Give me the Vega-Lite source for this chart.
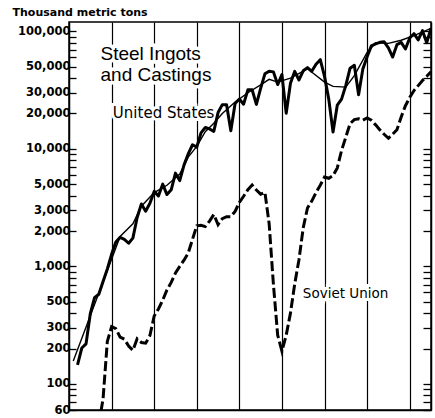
{
  "$schema": "https://vega.github.io/schema/vega-lite/v6.json",
  "width": 362,
  "height": 388,
  "autosize": {"type": "none"},
  "padding": {"left": 69, "top": 22, "right": 4, "bottom": 8},
  "background": "white",
  "config": {
    "view": {"stroke": "black", "strokeWidth": 1.5},
    "font": "DejaVu Sans",
    "axis": {"domainColor": "black", "domainWidth": 1.5, "tickColor": "black", "tickWidth": 1.3, "labelColor": "black", "titleColor": "black"}
  },
  "datasets": {
    "us": [
      {"year": 1872, "value": 145}, {"year": 1873, "value": 202}, {"year": 1874, "value": 219}, {"year": 1875, "value": 396},
      {"year": 1876, "value": 542}, {"year": 1877, "value": 579}, {"year": 1878, "value": 744}, {"year": 1879, "value": 950},
      {"year": 1880, "value": 1267}, {"year": 1881, "value": 1614}, {"year": 1882, "value": 1765}, {"year": 1883, "value": 1700},
      {"year": 1884, "value": 1574}, {"year": 1885, "value": 1739}, {"year": 1886, "value": 2604}, {"year": 1887, "value": 3393},
      {"year": 1888, "value": 2946}, {"year": 1889, "value": 3440}, {"year": 1890, "value": 4346}, {"year": 1891, "value": 3968},
      {"year": 1892, "value": 5006}, {"year": 1893, "value": 4084}, {"year": 1894, "value": 4483}, {"year": 1895, "value": 6212},
      {"year": 1896, "value": 5366}, {"year": 1897, "value": 7270}, {"year": 1898, "value": 9076}, {"year": 1899, "value": 10833},
      {"year": 1900, "value": 10351}, {"year": 1901, "value": 13689}, {"year": 1902, "value": 15186}, {"year": 1903, "value": 14767},
      {"year": 1904, "value": 14083}, {"year": 1905, "value": 20354}, {"year": 1906, "value": 23772}, {"year": 1907, "value": 23737},
      {"year": 1908, "value": 14247}, {"year": 1909, "value": 24338}, {"year": 1910, "value": 26512}, {"year": 1911, "value": 23997},
      {"year": 1912, "value": 31757}, {"year": 1913, "value": 31803}, {"year": 1914, "value": 23890}, {"year": 1915, "value": 32667},
      {"year": 1916, "value": 43460}, {"year": 1917, "value": 45783}, {"year": 1918, "value": 45178}, {"year": 1919, "value": 35219},
      {"year": 1920, "value": 42809}, {"year": 1921, "value": 20101}, {"year": 1922, "value": 36173}, {"year": 1923, "value": 45665},
      {"year": 1924, "value": 38540}, {"year": 1925, "value": 46122}, {"year": 1926, "value": 49069}, {"year": 1927, "value": 45656},
      {"year": 1928, "value": 52371}, {"year": 1929, "value": 57339}, {"year": 1930, "value": 41352}, {"year": 1931, "value": 26355},
      {"year": 1932, "value": 13901}, {"year": 1933, "value": 23600}, {"year": 1934, "value": 26494}, {"year": 1935, "value": 34640},
      {"year": 1936, "value": 48533}, {"year": 1937, "value": 51380}, {"year": 1938, "value": 28805}, {"year": 1939, "value": 47898},
      {"year": 1940, "value": 60766}, {"year": 1941, "value": 75152}, {"year": 1942, "value": 78047}, {"year": 1943, "value": 80593},
      {"year": 1944, "value": 81321}, {"year": 1945, "value": 72302}, {"year": 1946, "value": 60421}, {"year": 1947, "value": 77015},
      {"year": 1948, "value": 80413}, {"year": 1949, "value": 70740}, {"year": 1950, "value": 87848}, {"year": 1951, "value": 95435},
      {"year": 1952, "value": 84520}, {"year": 1953, "value": 101250}, {"year": 1954, "value": 80115}, {"year": 1955, "value": 106173}
    ],
    "trend": [
      {"year": 1871, "value": 157}, {"year": 1880, "value": 1150}, {"year": 1882, "value": 1800}, {"year": 1885, "value": 2300},
      {"year": 1887, "value": 3250}, {"year": 1890, "value": 4250}, {"year": 1893, "value": 4900}, {"year": 1896, "value": 6100},
      {"year": 1898, "value": 8500}, {"year": 1900, "value": 10500}, {"year": 1902, "value": 14000}, {"year": 1904, "value": 16500},
      {"year": 1906, "value": 20000}, {"year": 1909, "value": 25000}, {"year": 1912, "value": 30000}, {"year": 1915, "value": 35000},
      {"year": 1917, "value": 39000}, {"year": 1919, "value": 37000}, {"year": 1922, "value": 40000}, {"year": 1926, "value": 48000},
      {"year": 1930, "value": 37000}, {"year": 1932, "value": 34000}, {"year": 1935, "value": 33500}, {"year": 1937, "value": 42000},
      {"year": 1940, "value": 66000}, {"year": 1942, "value": 80000}, {"year": 1945, "value": 79000}, {"year": 1948, "value": 84000},
      {"year": 1951, "value": 92000}, {"year": 1955, "value": 106000}
    ],
    "ussr": [
      {"year": 1877, "value": 45}, {"year": 1878, "value": 75}, {"year": 1879, "value": 230}, {"year": 1880, "value": 307},
      {"year": 1881, "value": 295}, {"year": 1882, "value": 250}, {"year": 1883, "value": 240}, {"year": 1884, "value": 210},
      {"year": 1885, "value": 193}, {"year": 1886, "value": 242}, {"year": 1887, "value": 225}, {"year": 1888, "value": 222},
      {"year": 1889, "value": 258}, {"year": 1890, "value": 378}, {"year": 1891, "value": 434}, {"year": 1892, "value": 516},
      {"year": 1893, "value": 630}, {"year": 1894, "value": 731}, {"year": 1895, "value": 879}, {"year": 1896, "value": 1000},
      {"year": 1897, "value": 1130}, {"year": 1898, "value": 1300}, {"year": 1899, "value": 1700}, {"year": 1900, "value": 2216},
      {"year": 1901, "value": 2240}, {"year": 1902, "value": 2180}, {"year": 1903, "value": 2430}, {"year": 1904, "value": 2766},
      {"year": 1905, "value": 2266}, {"year": 1906, "value": 2550}, {"year": 1907, "value": 2650}, {"year": 1908, "value": 2650},
      {"year": 1909, "value": 2940}, {"year": 1910, "value": 3500}, {"year": 1911, "value": 3950}, {"year": 1912, "value": 4500},
      {"year": 1913, "value": 4918}, {"year": 1914, "value": 4466}, {"year": 1915, "value": 4120}, {"year": 1916, "value": 4270},
      {"year": 1917, "value": 2300}, {"year": 1918, "value": 700}, {"year": 1919, "value": 260}, {"year": 1920, "value": 190},
      {"year": 1921, "value": 260}, {"year": 1922, "value": 400}, {"year": 1923, "value": 709}, {"year": 1924, "value": 1140},
      {"year": 1925, "value": 2135}, {"year": 1926, "value": 3141}, {"year": 1927, "value": 3592}, {"year": 1928, "value": 4251},
      {"year": 1929, "value": 4903}, {"year": 1930, "value": 5761}, {"year": 1931, "value": 5620}, {"year": 1932, "value": 5927},
      {"year": 1933, "value": 6889}, {"year": 1934, "value": 9693}, {"year": 1935, "value": 12588}, {"year": 1936, "value": 16400},
      {"year": 1937, "value": 17730}, {"year": 1938, "value": 18057}, {"year": 1939, "value": 17564}, {"year": 1940, "value": 18317},
      {"year": 1941, "value": 17500}, {"year": 1942, "value": 16000}, {"year": 1943, "value": 14500}, {"year": 1944, "value": 13300},
      {"year": 1945, "value": 12300}, {"year": 1946, "value": 13346}, {"year": 1947, "value": 14535}, {"year": 1948, "value": 18639},
      {"year": 1949, "value": 23291}, {"year": 1950, "value": 27329}, {"year": 1951, "value": 31350}, {"year": 1952, "value": 34492},
      {"year": 1953, "value": 38128}, {"year": 1954, "value": 41434}, {"year": 1955, "value": 45271}
    ],
    "title": [
      {"year": 1877.4, "value": 57000, "label": "Steel Ingots"},
      {"year": 1877.4, "value": 37800, "label": "and Castings"}
    ],
    "uslabel": [{"year": 1880.3, "value": 18300, "label": "United States"}],
    "sulabel": [{"year": 1924.9, "value": 538, "label": "Soviet Union"}]
  },
  "encoding": {
    "x": {
      "field": "year", "type": "quantitative",
      "scale": {"domain": [1870, 1955], "nice": false, "zero": false},
      "axis": {"orient": "bottom", "values": [1880, 1890, 1900, 1910, 1920, 1930, 1940, 1950], "grid": true, "gridColor": "black", "gridWidth": 1.2, "gridOpacity": 1, "labels": false, "ticks": false, "title": null}
    }
  },
  "layer": [
    {
      "data": {"name": "title"},
      "mark": {"type": "text", "align": "left", "baseline": "alphabetic", "font": "Liberation Sans", "fontSize": 19, "stroke": "white", "strokeWidth": 7, "color": "white"},
      "encoding": {"y": {"field": "value", "type": "quantitative", "axis": null}, "text": {"field": "label"}}
    },
    {
      "data": {"name": "uslabel"},
      "mark": {"type": "text", "align": "left", "baseline": "alphabetic", "fontSize": 15, "stroke": "white", "strokeWidth": 6, "color": "white"},
      "encoding": {"y": {"field": "value", "type": "quantitative", "axis": null}, "text": {"field": "label"}}
    },
    {
      "data": {"name": "sulabel"},
      "mark": {"type": "text", "align": "left", "baseline": "alphabetic", "fontSize": 13.5, "stroke": "white", "strokeWidth": 6, "color": "white"},
      "encoding": {"y": {"field": "value", "type": "quantitative", "axis": null}, "text": {"field": "label"}}
    },
    {
      "data": {"name": "us"},
      "mark": {"type": "line", "color": "black", "strokeWidth": 3, "strokeJoin": "round", "clip": true},
      "encoding": {
        "y": {
          "field": "value", "type": "quantitative",
          "scale": {"type": "log", "domain": [60, 120000], "nice": false},
          "axis": {
            "orient": "left",
            "values": [60, 70, 80, 90, 100, 200, 300, 400, 500, 600, 700, 800, 900, 1000, 2000, 3000, 4000, 5000, 6000, 7000, 8000, 9000, 10000, 20000, 30000, 40000, 50000, 60000, 70000, 80000, 90000, 100000],
            "labelExpr": "indexof([60,100,200,300,500,1000,2000,3000,5000,10000,20000,30000,50000,100000], datum.value) >= 0 ? format(datum.value, ',') : ''",
            "tickSize": -7,
            "labelPadding": 6,
            "labelFontSize": 11.5,
            "labelFontWeight": "bold",
            "labelFlush": false,
            "labelOverlap": false,
            "grid": false,
            "title": "Thousand metric tons",
            "titleAngle": 0,
            "titleAlign": "left",
            "titleBaseline": "alphabetic",
            "titleX": -57,
            "titleY": -7,
            "titleFontSize": 11,
            "titleFontWeight": "bold"
          }
        }
      }
    },
    {
      "data": {"name": "trend"},
      "mark": {"type": "line", "color": "black", "strokeWidth": 1.4, "clip": true},
      "encoding": {
        "y": {
          "field": "value", "type": "quantitative",
          "axis": {
            "orient": "right",
            "values": [60, 70, 80, 90, 100, 200, 300, 400, 500, 600, 700, 800, 900, 1000, 2000, 3000, 4000, 5000, 6000, 7000, 8000, 9000, 10000, 20000, 30000, 40000, 50000, 60000, 70000, 80000, 90000, 100000],
            "labels": false, "tickSize": -8, "grid": false, "title": null
          }
        }
      }
    },
    {
      "data": {"name": "ussr"},
      "mark": {"type": "line", "color": "black", "strokeWidth": 3, "strokeDash": [10, 3.5], "clip": true},
      "encoding": {"y": {"field": "value", "type": "quantitative", "axis": null}}
    },
    {
      "data": {"name": "title"},
      "mark": {"type": "text", "align": "left", "baseline": "alphabetic", "font": "Liberation Sans", "fontSize": 19, "color": "black"},
      "encoding": {"y": {"field": "value", "type": "quantitative", "axis": null}, "text": {"field": "label"}}
    },
    {
      "data": {"name": "uslabel"},
      "mark": {"type": "text", "align": "left", "baseline": "alphabetic", "fontSize": 15, "color": "black"},
      "encoding": {"y": {"field": "value", "type": "quantitative", "axis": null}, "text": {"field": "label"}}
    },
    {
      "data": {"name": "sulabel"},
      "mark": {"type": "text", "align": "left", "baseline": "alphabetic", "fontSize": 13.5, "color": "black"},
      "encoding": {"y": {"field": "value", "type": "quantitative", "axis": null}, "text": {"field": "label"}}
    }
  ],
  "resolve": {"axis": {"y": "independent"}}
}
